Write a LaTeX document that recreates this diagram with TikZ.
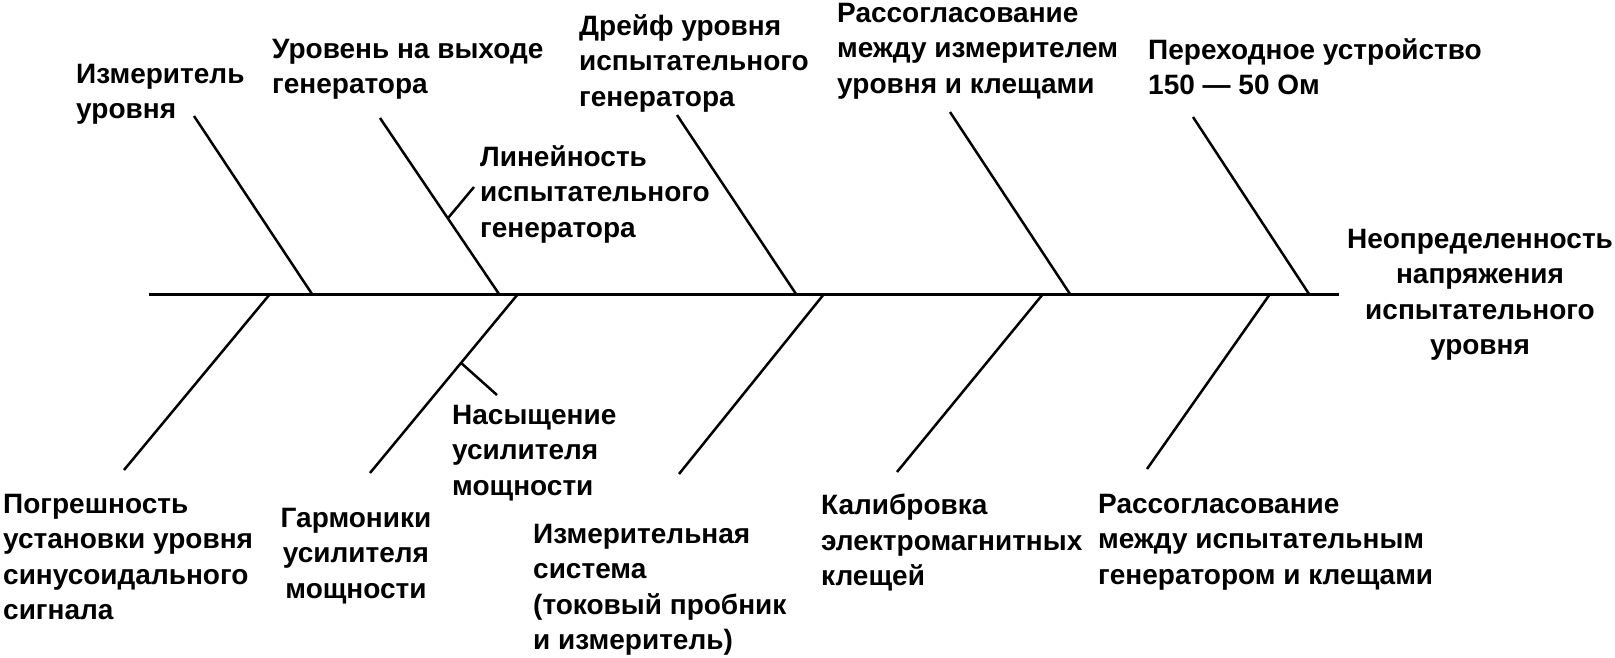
\documentclass[tikz,border=0pt]{standalone}
\usepackage{fontspec}
\setmainfont{Liberation Sans}
\usetikzlibrary{calc}
\tikzset{
  bone/.style={line width=2.5pt},
  spine/.style={line width=3pt},
  lbl/.style={font=\bfseries\fontsize{28}{35.5}\selectfont, inner sep=0pt, anchor=north west, align=left}
}

\begin{document}
\begin{tikzpicture}[x=1pt,y=-1pt]
\useasboundingbox (0,0) rectangle (1615,658);
% spine
\coordinate (s0) at (149,294);
\coordinate (s1) at (1339,294);
\draw[spine] (s0) -- (s1);
% upper bones
\coordinate (u1t) at (194,116);  \coordinate (u1b) at (312,294);
\coordinate (u2t) at (380,118);  \coordinate (u2b) at (499,294);
\coordinate (u3t) at (677,115);  \coordinate (u3b) at (796,294);
\coordinate (u4t) at (950,112);  \coordinate (u4b) at (1070,294);
\coordinate (u5t) at (1193,117); \coordinate (u5b) at (1309,294);
\foreach \i in {1,...,5} \draw[bone] (u\i t) -- (u\i b);
\coordinate (u2s) at ($(u2t)!0.57!(u2b)$);
\coordinate (u2e) at (474,187);
\draw[bone] (u2s) -- (u2e);
% lower bones
\coordinate (l1t) at (270,294);  \coordinate (l1b) at (124,470);
\coordinate (l2t) at (518,294);  \coordinate (l2b) at (370,473);
\coordinate (l3t) at (824,294);  \coordinate (l3b) at (679,474);
\coordinate (l4t) at (1043,294); \coordinate (l4b) at (897,472);
\coordinate (l5t) at (1270,294); \coordinate (l5b) at (1147,469);
\foreach \i in {1,...,5} \draw[bone] (l\i t) -- (l\i b);
\coordinate (l2s) at ($(l2t)!0.385!(l2b)$);
\coordinate (l2e) at (497,395);
\draw[bone] (l2s) -- (l2e);
% labels
\node[lbl] (izm) at (76,64) {Измеритель\\уровня};
\node[lbl] (gen) at (272,39) {Уровень на выходе\\генератора};
\node[lbl] (drf) at (579,14) {Дрейф уровня\\испытательного\\генератора};
\node[lbl] (lin) at (480,145) {Линейность\\испытательного\\генератора};
\node[lbl] (rs1) at (837,3) {Рассогласование\\между измерителем\\уровня и клещами};
\node[lbl] (prh) at (1148,38) {Переходное устройство\\150 — 50 Ом};
\node[lbl, anchor=north, align=center] (head) at (1480,229) {Неопределенность\\напряжения\\испытательного\\уровня};
\node[lbl] (pgr) at (3,494) {Погрешность\\установки уровня\\синусоидального\\сигнала};
\node[lbl, anchor=north, align=center] (grm) at (356,508) {Гармоники\\усилителя\\мощности};
\node[lbl] (nas) at (452,405) {Насыщение\\усилителя\\мощности};
\node[lbl] (sys) at (533,524) {Измерительная\\система\\(токовый пробник\\и измеритель)};
\node[lbl] (kal) at (821,494) {Калибровка\\электромагнитных\\клещей};
\node[lbl] (rs2) at (1098,494) {Рассогласование\\между испытательным\\генератором и клещами};
\end{tikzpicture}
\end{document}
